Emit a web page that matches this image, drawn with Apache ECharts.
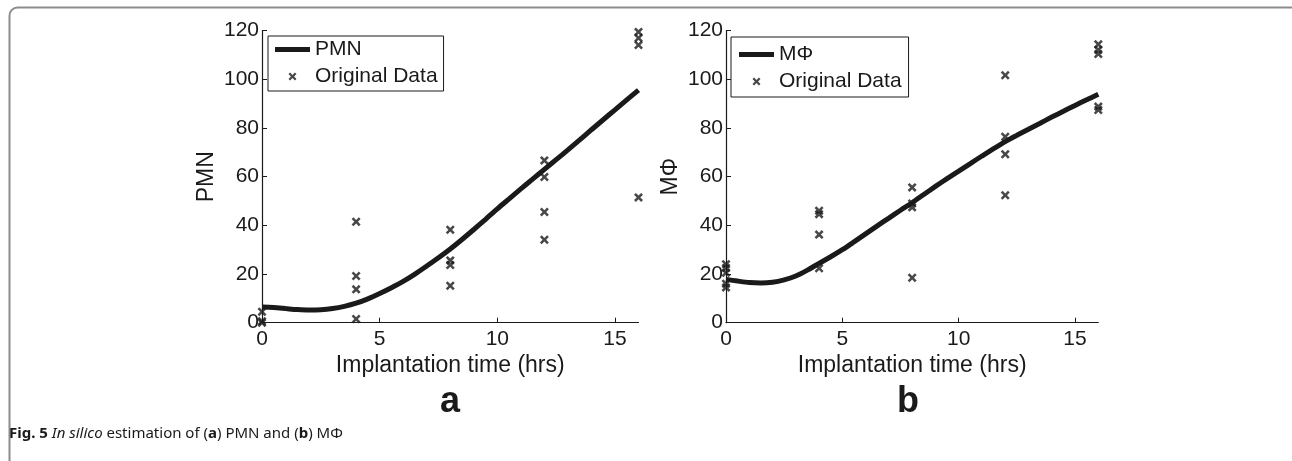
<!DOCTYPE html>
<html>
<head>
<meta charset="utf-8">
<script src="https://cdn.jsdelivr.net/npm/echarts@6/dist/echarts.min.js"></script>
<style>
  html, body { margin: 0; padding: 0; background: #fff; }
  #chart { width: 1292px; height: 461px; }
</style>
</head>
<body>
<div id="chart"></div>
<script>
// fitted model curves, sampled every half hour
const hours = [0, 0.5, 1, 1.5, 2, 2.5, 3, 3.5, 4, 4.5, 5, 5.5, 6, 6.5, 7, 7.5, 8,
  8.5, 9, 9.5, 10, 10.5, 11, 11.5, 12, 12.5, 13, 13.5, 14, 14.5, 15, 15.5, 16];
const pmnFit = [6.5, 6.2, 5.8, 5.4, 5.2, 5.3, 5.8, 6.7, 8, 9.8, 12, 14.4, 17, 20, 23.3, 26.7, 30.3,
  34.2, 38.3, 42.5, 46.8, 50.9, 55, 59, 63, 67, 71, 75.1, 79.3, 83.4, 87.5, 91.6, 95.6];
const mphiFit = [17.8, 17.1, 16.5, 16.3, 16.6, 17.6, 19.2, 21.6, 24.4, 27.1, 30, 33.2, 36.5, 39.8, 43, 46.2, 49.3,
  52.7, 56, 59.2, 62.3, 65.4, 68.5, 71.5, 74.4, 77, 79.5, 82, 84.5, 86.9, 89.3, 91.6, 93.9];

// original measurements at each implantation time
const obsTimes = [0, 4, 8, 12, 16];
const pmnObs = [
  [0, 0.6, 4.5],
  [41.5, 19.2, 13.7, 1.5],
  [38.2, 25.6, 23.7, 15.2],
  [66.7, 59.9, 45.5, 34.1],
  [119.5, 117, 114.1, 51.5]
];
const mphiObs = [
  [24, 22.5, 20.5, 16, 14.5],
  [46, 44.6, 36.2, 22.4],
  [55.6, 49, 47.4, 18.5],
  [101.7, 76.4, 69.2, 52.4],
  [114.4, 112.1, 110.4, 88.8, 87.4]
];

const xTicks = [0, 5, 10, 15];

const FONT = '"Liberation Sans", Arial, Helvetica, sans-serif';
const INK = '#1a1a1a';
const crossPath = 'path://M0,2 L2,0 L5,3 L8,0 L10,2 L7,5 L10,8 L8,10 L5,7 L2,10 L0,8 L3,5 Z';
const barPath = 'path://M0,0 L35,0 L35,5 L0,5 Z';

function pairs(xs, ys) {
  return xs.map((x, i) => [x, ys[i]]);
}
function obsPairs(groups) {
  const out = [];
  groups.forEach((vals, i) => vals.forEach(v => out.push([obsTimes[i], v])));
  return out;
}

function xAxis(idx) {
  return {
    type: 'value',
    gridIndex: idx,
    min: 0,
    max: 16,
    interval: 5,
    name: 'Implantation time (hrs)',
    nameLocation: 'middle',
    nameGap: 29,
    nameTextStyle: { color: INK, fontSize: 23, fontFamily: FONT },
    axisLine: { lineStyle: { color: INK, width: 1.2 } },
    axisTick: { inside: true, length: 5, lineStyle: { color: INK }, customValues: xTicks },
    axisLabel: { color: INK, fontSize: 21, fontFamily: FONT, margin: 6, customValues: xTicks },
    splitLine: { show: false }
  };
}
function yAxis(idx, name) {
  return {
    type: 'value',
    gridIndex: idx,
    min: 0,
    max: 120,
    interval: 20,
    name: name,
    nameLocation: 'middle',
    nameGap: 44,
    nameTextStyle: { color: INK, fontSize: 23, fontFamily: FONT },
    axisLine: { show: true, lineStyle: { color: INK, width: 1.2 } },
    axisTick: { show: true, inside: true, length: 5, lineStyle: { color: INK } },
    axisLabel: { color: INK, fontSize: 21, fontFamily: FONT, margin: 3 },
    splitLine: { show: false }
  };
}
function legend(left, top, padding, fitName) {
  return {
    left: left,
    top: top,
    orient: 'vertical',
    selectedMode: false,
    padding: padding,
    itemGap: 6,
    itemWidth: 35,
    itemHeight: 8,
    borderColor: INK,
    borderWidth: 1,
    textStyle: { color: INK, fontSize: 21, fontFamily: FONT },
    data: [
      { name: fitName, icon: barPath },
      { name: 'Original Data', icon: crossPath }
    ]
  };
}

const chart = echarts.init(document.getElementById('chart'));
chart.setOption({
  animation: false,
  backgroundColor: '#fff',
  grid: [
    { left: 262, top: 30.7, width: 376.5, height: 292 },
    { left: 726, top: 30.7, width: 372.3, height: 292 }
  ],
  xAxis: [xAxis(0), xAxis(1)],
  yAxis: [yAxis(0, 'PMN'), yAxis(1, 'MΦ')],
  legend: [
    legend(268, 36, [3, 6, 4, 7], 'PMN'),
    legend(731, 37, [7, 7, 5, 8], 'MΦ')
  ],
  series: [
    {
      name: 'PMN', type: 'line', xAxisIndex: 0, yAxisIndex: 0,
      data: pairs(hours, pmnFit), smooth: 0.3, symbol: 'none',
      lineStyle: { color: INK, width: 5 }, itemStyle: { color: INK }
    },
    {
      name: 'Original Data', type: 'scatter', xAxisIndex: 0, yAxisIndex: 0,
      data: obsPairs(pmnObs), symbol: crossPath, symbolSize: 9, clip: false,
      itemStyle: { color: INK }
    },
    {
      name: 'MΦ', type: 'line', xAxisIndex: 1, yAxisIndex: 1,
      data: pairs(hours, mphiFit), smooth: 0.3, symbol: 'none',
      lineStyle: { color: INK, width: 5 }, itemStyle: { color: INK }
    },
    {
      name: 'Original Data', type: 'scatter', xAxisIndex: 1, yAxisIndex: 1,
      data: obsPairs(mphiObs), symbol: crossPath, symbolSize: 9, clip: false,
      itemStyle: { color: INK }
    }
  ],
  graphic: [
    {
      type: 'rect', left: 7, top: 5, silent: true,
      shape: { width: 1400, height: 600, r: 8 },
      style: { fill: 'none', stroke: '#8c8c8c', lineWidth: 2 }
    },
    {
      type: 'text', x: 450, y: 402, silent: true,
      style: { text: 'a', fill: INK, font: 'bold 36px ' + FONT, align: 'center', verticalAlign: 'middle' }
    },
    {
      type: 'text', x: 908, y: 402, silent: true,
      style: { text: 'b', fill: INK, font: 'bold 36px ' + FONT, align: 'center', verticalAlign: 'middle' }
    },
    {
      type: 'text', x: 9, y: 434, silent: true,
      style: {
        text: '{b|Fig. 5} {i|In silico} estimation of ({b|a}) PMN and ({b|b}) MΦ',
        verticalAlign: 'middle',
        fill: INK,
        font: '15px "Noto Sans", sans-serif',
        rich: {
          b: { fontWeight: 'bold', fontSize: 15, fontFamily: '"Noto Sans", sans-serif', fill: INK },
          i: { fontStyle: 'italic', fontSize: 15, fontFamily: '"Noto Sans", sans-serif', fill: INK }
        }
      }
    }
  ]
});
</script>
</body>
</html>
